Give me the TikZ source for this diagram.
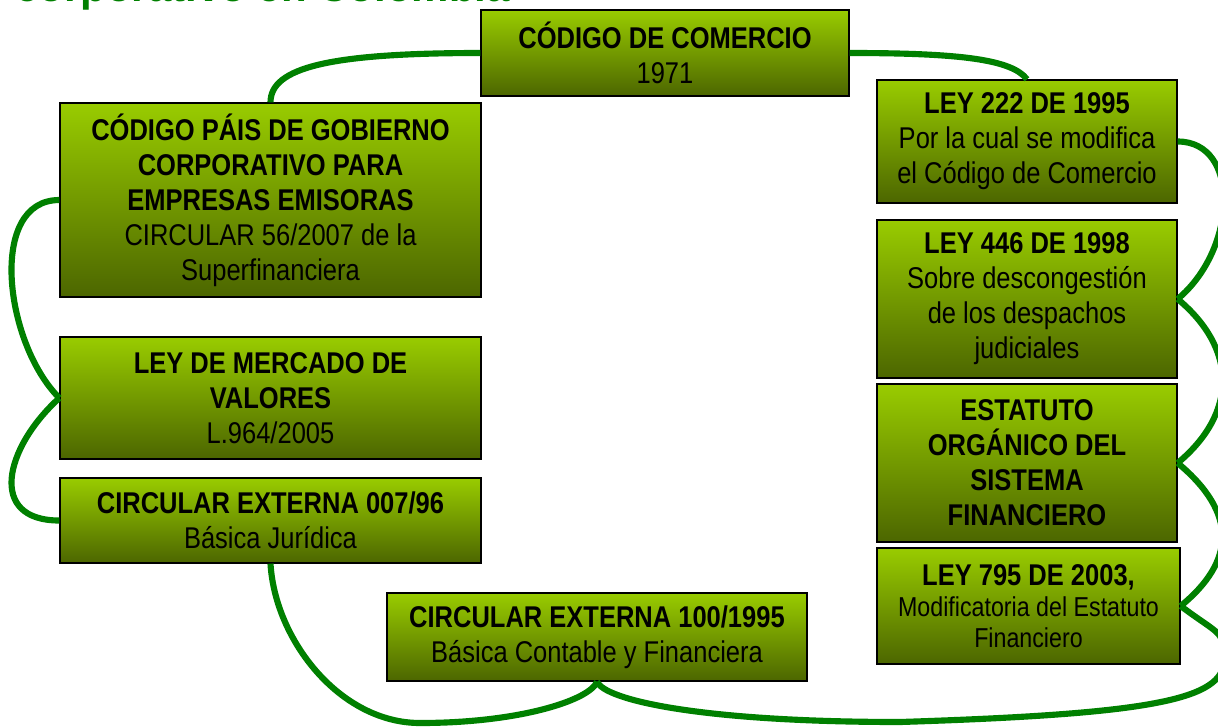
\documentclass[tikz,border=0pt]{standalone}
\usepackage{fontspec}
\setmainfont{Liberation Sans}[FakeStretch=0.85]
\newfontfamily\titlefont{Liberation Sans}
\definecolor{boxtop}{RGB}{153,204,0}
\definecolor{boxbot}{RGB}{76,102,0}
\definecolor{conngreen}{RGB}{0,128,0}
\tikzset{
  lawbox/.style={draw=black, line width=1pt, top color=boxtop, bottom color=boxbot,
    inner sep=0pt, align=center, text=black, font=\fontsize{22.5}{26.25}\selectfont},
  conn/.style={draw=conngreen, line width=4.6pt},
}
\begin{document}
\begin{tikzpicture}[x=0.75pt,y=-0.75pt]
\useasboundingbox (0,0) rectangle (1218,726);
\fill[white] (0,0) rectangle (1218,726);
\clip (0,0) rectangle (1218,726);

\node[anchor=base west, inner sep=0pt, text=conngreen,
  font=\titlefont\bfseries\fontsize{31.5}{36}\selectfont] (title) at (15,1.3) {corporativo en Colombia};

\node[lawbox, minimum width=276pt, minimum height=64.5pt] (com) at (665,53)
  {\textbf{CÓDIGO DE COMERCIO}\\1971};
\node[lawbox, minimum width=315.75pt, minimum height=145.5pt] (pais) at (270.5,200)
  {\textbf{CÓDIGO PÁIS DE GOBIERNO}\\\textbf{CORPORATIVO PARA}\\\textbf{EMPRESAS EMISORAS}\\CIRCULAR 56/2007 de la\\Superfinanciera};
\node[lawbox, minimum width=225pt, minimum height=92.25pt] (ley222) at (1027,141.5)
  {\textbf{LEY 222 DE 1995}\\ Por la cual se modifica\\el Código de Comercio};
\node[lawbox, minimum width=225pt, minimum height=118.5pt] (ley446) at (1027,299)
  {\textbf{LEY 446 DE 1998}\\Sobre descongestión\\de los despachos\\judiciales};
\node[lawbox, minimum width=315.75pt, minimum height=91.5pt] (mercado) at (270.5,398)
  {\textbf{LEY DE MERCADO DE}\\\textbf{VALORES}\\L.964/2005};
\node[lawbox, minimum width=225pt, minimum height=118.5pt] (estatuto) at (1027,463)
  {\textbf{ESTATUTO}\\\textbf{ORGÁNICO DEL}\\\textbf{SISTEMA}\\\textbf{FINANCIERO}};
\node[lawbox, minimum width=227.25pt, minimum height=87pt, font=\fontsize{20.5}{23.5}\selectfont] (ley795) at (1028.5,606)
  {{\fontsize{22.5}{26.25}\selectfont\textbf{LEY 795 DE 2003,}}\\Modificatoria del Estatuto\\Financiero};
\node[lawbox, minimum width=315.75pt, minimum height=63.75pt] (circ007) at (270.5,520.5)
  {\textbf{CIRCULAR EXTERNA 007/96}\\Básica Jurídica};
\node[lawbox, minimum width=315pt, minimum height=66pt] (circ100) at (597,637)
  {\textbf{CIRCULAR EXTERNA 100/1995}\\Básica Contable y Financiera};

\coordinate (r1) at (1224,660);
\coordinate (r2) at (900,722);
\coordinate (l1) at (420,723);

\draw[conn] (com.west) .. controls +(-150,0) and +(0,-35) .. (pais.north);
\draw[conn] (com.east) .. controls +(110,0) and +(-15,-20) .. (ley222.north);
\draw[conn] (ley222.east) .. controls +(63,0) and +(60,-50) .. (ley446.east);
\draw[conn] (ley446.east) .. controls +(60,50) and +(60,-50) .. (estatuto.east);
\draw[conn] (estatuto.east) .. controls +(60,50) and +(55,-45) .. (ley795.east);
\draw[conn] (ley795.east) .. controls +(40,30) and (1224,630) .. (r1)
  .. controls (1224,700) and (1150,714) .. (r2)
  .. controls (700,722) and (605,700) .. (circ100.south);
\draw[conn] (circ007.south) .. controls (275,640) and (340,723) .. (l1)
  .. controls (520,723) and (590,700) .. (circ100.south);
\draw[conn] (pais.west) .. controls +(-72,0) and +(-55,-55) .. (mercado.west);
\draw[conn] (mercado.west) .. controls +(-55,50) and +(-72,0) .. (circ007.west);
\end{tikzpicture}
\end{document}
